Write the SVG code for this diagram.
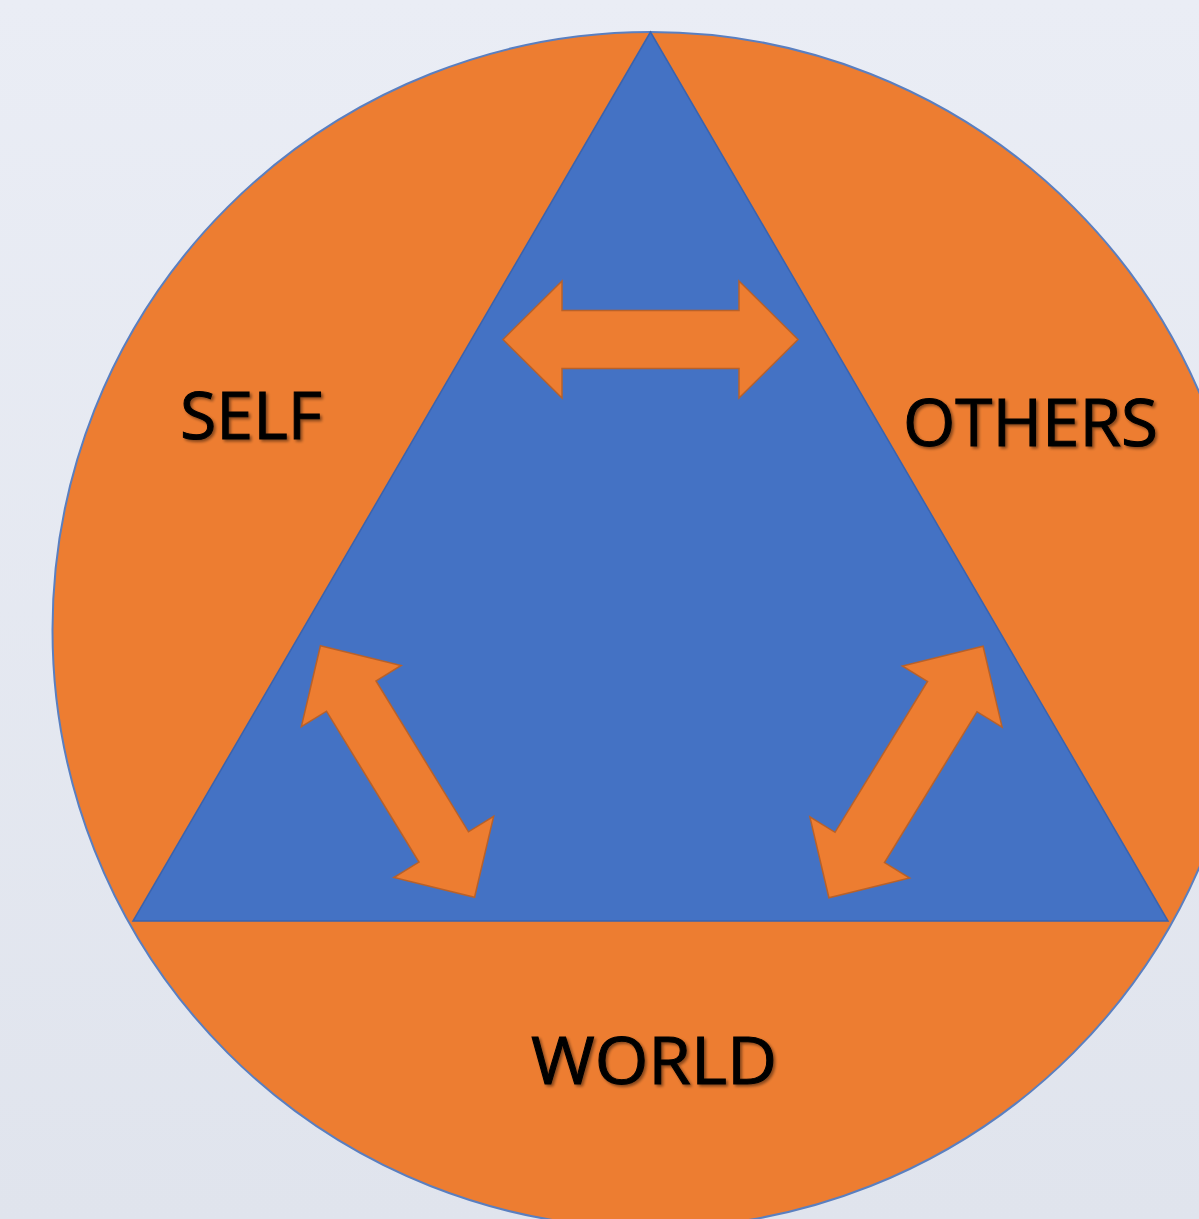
<svg xmlns="http://www.w3.org/2000/svg" width="1199" height="1219" viewBox="0 0 1199 1219">
  <defs>
    <linearGradient id="bg" x1="0" y1="0" x2="0" y2="1">
      <stop offset="0" stop-color="#eaedf5"/>
      <stop offset="1" stop-color="#e0e4ed"/>
    </linearGradient>
    <filter id="shadow" x="-10%" y="-20%" width="130%" height="150%">
      <feGaussianBlur in="SourceAlpha" stdDeviation="1.5"/>
      <feOffset dx="2" dy="2" result="b"/>
      <feComponentTransfer><feFuncA type="linear" slope="0.45"/></feComponentTransfer>
      <feMerge><feMergeNode/><feMergeNode in="SourceGraphic"/></feMerge>
    </filter>
    <polygon id="dblarrow" points="-147.5,0 -88.5,-58.5 -88.5,-29 88.5,-29 88.5,-58.5 147.5,0 88.5,58.5 88.5,29 -88.5,29 -88.5,58.5"/>
  </defs>
  <style>
    .circle { fill: #ED7D31; stroke: #5a7fc0; stroke-width: 2; }
    .tri { fill: #4472C4; stroke: #3b63ad; stroke-width: 1.5; }
    .arrow { fill: #ED7D31; stroke: #b8612a; stroke-width: 1.5; stroke-linejoin: miter; }
    .label { font-family: "Open Sans", "Liberation Sans", Arial, sans-serif; font-size: 66px; fill: #000; stroke: #000; stroke-width: 1; filter: url(#shadow); }
  </style>
  <rect x="0" y="0" width="1199" height="1219" fill="url(#bg)"/>
  <g id="circle-world">
    <circle class="circle" cx="650.5" cy="630" r="598"/>
  </g>
  <g id="triangle">
    <polygon class="tri" points="650.5,32 133,921 1168,921"/>
  </g>
  <g id="connectors">
    <use href="#dblarrow" class="arrow" transform="translate(650.5,339.5)"/>
    <use href="#dblarrow" class="arrow" transform="translate(397.5,771.5) rotate(58.5)"/>
    <use href="#dblarrow" class="arrow" transform="translate(906,772) rotate(-58.5)"/>
  </g>
  <g id="self">
    <text class="label" x="180" y="439" textLength="142" lengthAdjust="spacingAndGlyphs">SELF</text>
  </g>
  <g id="others">
    <text class="label" x="903" y="446" textLength="255" lengthAdjust="spacingAndGlyphs">OTHERS</text>
  </g>
  <g id="world">
    <text class="label" x="531" y="1084" textLength="246" lengthAdjust="spacingAndGlyphs">WORLD</text>
  </g>
</svg>
